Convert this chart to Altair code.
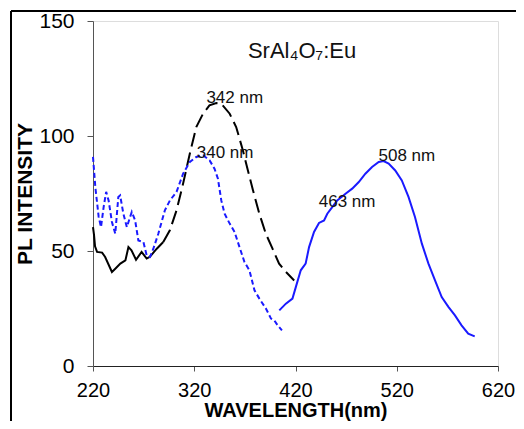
import altair as alt
import pandas as pd

# Black excitation curve (solid then long-dash)
ex1_nm = [220, 221, 222, 224, 229, 232, 238.7, 242, 247, 252, 255, 258, 262.5, 268, 273, 276, 283, 289.4,
          295.9, 302.5, 309, 315.6, 322, 328.7, 335, 341.8, 346.7, 355, 361.4, 368, 373, 378, 384.3,
          390.7, 397.3, 403.8, 410.5, 418.7]
ex1_val = [60.4, 57, 52, 49.6, 49.3, 47.4, 40.9, 42.3, 44.5, 45.9, 51.7, 50.3, 46.2, 49.6, 46.7, 47.4, 51.0, 53.9,
           59, 67.7, 79.3, 92.3, 103.9, 109.7, 113.3, 114.3, 114, 109.7, 103.9, 93.8, 85, 76.4, 66.2,
           57.5, 51, 44.5, 40.9, 37.2]
SPLIT_NM = 290

# Blue dashed excitation curve
ex2_nm = [220, 222.3, 225.6, 227.9, 230.5, 233, 235.4, 238.7, 242, 245, 246.8, 250, 253.4, 258.3, 261.6, 264.8,
          269.8, 273, 276.3, 279.6, 284.5, 291, 296, 302.5, 309, 315.6, 322, 328.7, 335.2, 340, 343.4, 346.7,
          350, 355, 359.8, 364.7, 369.6, 374.5, 379.5, 384.3, 390.9, 395.8, 399, 402.3, 406.6]
ex2_val = [90.9, 77.8, 64.8, 60.4, 69.1, 75.7, 72, 62.6, 57.5, 73.5, 74.2, 66.2, 60.4, 67, 63.3, 54.6,
           53.9, 48.1, 47.4, 51, 57.5, 67.7, 72, 75.7, 83.6, 88.7, 90.9, 91.6, 89.4, 85.8, 81.4, 72,
           66.2, 61.9, 58.3, 51.7, 45.2, 41.6, 32.9, 29.3, 24.9, 20.6, 19.9, 17.7, 15.5]

# Blue solid emission curve
em_nm = [404, 410.5, 417, 420.3, 425.2, 430, 433.4, 438.3, 443.2, 448.2, 451.4, 456.3, 461.2, 469.4, 476, 482.5,
         489, 495.6, 502.2, 507, 512, 518.5, 525, 531.6, 538, 544.8, 551.3, 557.8, 564.4, 571, 577.5, 584,
         590.6, 597]
em_val = [24.2, 27.1, 29.3, 34.3, 41.6, 44.5, 51.7, 58.3, 62.2, 63.3, 66.2, 69.1, 72, 74.9, 77.1, 80,
          83.6, 86.5, 88.7, 89.1, 88, 85, 80.7, 73.5, 64.8, 53.2, 44.5, 37.2, 30, 25.7, 22, 17.7,
          14.1, 12.9]

# Annotations
ann_text = ["342 nm", "340 nm", "463 nm", "508 nm", "SrAl\u2084O\u2087:Eu"]
ann_nm = [332, 322.5, 443, 502, 373]
ann_val = [116.4, 92.6, 71.3, 91.3, 137]
ann_size = [17, 17, 17, 17, 22]

x_ticks = [220, 320, 420, 520, 620]
y_ticks = [0, 50, 100, 150]

solid_part = pd.DataFrame({"nm": [n for n in ex1_nm if n <= SPLIT_NM],
                           "val": [v for n, v in zip(ex1_nm, ex1_val) if n <= SPLIT_NM]})
dash_part = pd.DataFrame({"nm": [n for n in ex1_nm if n >= SPLIT_NM - 1],
                          "val": [v for n, v in zip(ex1_nm, ex1_val) if n >= SPLIT_NM - 1]})
ex2 = pd.DataFrame({"nm": ex2_nm, "val": ex2_val})
em = pd.DataFrame({"nm": em_nm, "val": em_val})
ann = pd.DataFrame({"text": ann_text, "nm": ann_nm, "val": ann_val, "size": ann_size})

FONT = "Liberation Sans"

xs = alt.Scale(domain=[220, 620], nice=False, zero=False)
ys = alt.Scale(domain=[0, 150], nice=False)

x_axis = alt.Axis(values=x_ticks, title="WAVELENGTH(nm)", grid=False, tickSize=5, labelPadding=9,
                  labelFontSize=20, labelFont=FONT, labelColor="#000", titleFont=FONT, titleFontSize=20,
                  titleFontWeight="bold", titleColor="#000", titlePadding=0, domainColor="#222",
                  tickColor="#555", labelFlush=False)
y_axis = alt.Axis(values=y_ticks, title="PL INTENSITY", grid=False, tickSize=6, labelPadding=13,
                  labelFontSize=21, labelFont=FONT, labelColor="#000", titleFont=FONT, titleFontSize=21,
                  titleFontWeight="bold", titleColor="#000", titlePadding=3, domainColor="#555",
                  tickColor="#555", labelFlush=False)

base_x = alt.X("nm:Q", scale=xs, axis=x_axis)
base_y = alt.Y("val:Q", scale=ys, axis=y_axis)

l1 = alt.Chart(solid_part).mark_line(color="#000", strokeWidth=2).encode(x=base_x, y=base_y, order="nm:Q")
l2 = alt.Chart(dash_part).mark_line(color="#000", strokeWidth=2, strokeDash=[14, 6]).encode(
    x=alt.X("nm:Q", scale=xs), y=alt.Y("val:Q", scale=ys), order="nm:Q")
l3 = alt.Chart(ex2).mark_line(color="#1a1aff", strokeWidth=2, strokeDash=[5, 3]).encode(
    x=alt.X("nm:Q", scale=xs), y=alt.Y("val:Q", scale=ys), order="nm:Q")
l4 = alt.Chart(em).mark_line(color="#1a1aff", strokeWidth=2).encode(
    x=alt.X("nm:Q", scale=xs), y=alt.Y("val:Q", scale=ys), order="nm:Q")
txt = alt.Chart(ann).mark_text(align="left", baseline="middle", font=FONT, color="#111").encode(
    x=alt.X("nm:Q", scale=xs), y=alt.Y("val:Q", scale=ys), text="text:N",
    size=alt.Size("size:Q", scale=None, legend=None))

# outer frame of the figure
frame_df = pd.DataFrame({"k": [0]})
frame_v = alt.Chart(frame_df).mark_rule(color="#000", strokeWidth=2).encode(
    x=alt.value(-82), y=alt.value(-10), y2=alt.value(460))
frame_h = alt.Chart(frame_df).mark_rule(color="#000", strokeWidth=2).encode(
    x=alt.value(-82), x2=alt.value(480), y=alt.value(-10))

chart = alt.layer(frame_v, frame_h, l1, l2, l3, l4, txt).properties(
    width=405, height=345,
    autosize=alt.AutoSizeParams(type="none"),
    padding={"left": 85, "top": 13, "right": 18, "bottom": 55},
).configure_view(stroke=None).configure(background="white")

chart.save("out.html", embed_options={"renderer": "svg", "actions": False})
